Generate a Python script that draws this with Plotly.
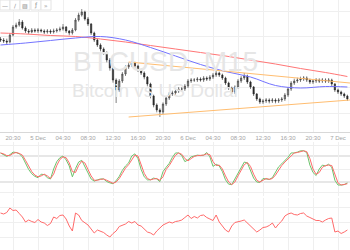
import plotly.graph_objects as go
import pandas as pd

# ---- data ----
times = pd.date_range("2018-12-04 18:30", periods=112, freq="30min")

opens = [3883, 3880, 3877, 3874, 3895, 3919, 3925, 3934, 3916, 3907,
         3904, 3910, 3907, 3910, 3907, 3904, 3907, 3904, 3907, 3910,
         3913, 3919, 3907, 3901, 3910, 3940, 3955, 3964, 3943, 3928,
         3901, 3880, 3865, 3853, 3841, 3820, 3796, 3760, 3730, 3757,
         3778, 3799, 3805, 3811, 3802, 3790, 3781, 3769, 3748, 3712,
         3685, 3670, 3664, 3688, 3706, 3718, 3721, 3727, 3733, 3733,
         3742, 3757, 3760, 3760, 3763, 3760, 3766, 3763, 3769, 3775,
         3781, 3775, 3766, 3751, 3736, 3724, 3739, 3757, 3766, 3772,
         3754, 3739, 3718, 3703, 3694, 3697, 3700, 3697, 3700, 3697,
         3700, 3703, 3715, 3733, 3751, 3757, 3760, 3763, 3766, 3760,
         3754, 3757, 3760, 3757, 3760, 3757, 3760, 3748, 3730, 3724,
         3718, 3712]
highs = [3889, 3886, 3884, 3901, 3925, 3932, 3943, 3940, 3921, 3913,
         3916, 3915, 3916, 3914, 3912, 3913, 3912, 3914, 3916, 3920,
         3928, 3922, 3910, 3916, 3946, 3962, 3973, 3968, 3949, 3931,
         3905, 3884, 3870, 3858, 3846, 3826, 3800, 3765, 3763, 3784,
         3805, 3812, 3817, 3815, 3806, 3794, 3786, 3772, 3752, 3716,
         3690, 3675, 3693, 3712, 3724, 3728, 3733, 3739, 3739, 3748,
         3763, 3766, 3766, 3769, 3768, 3772, 3771, 3775, 3781, 3787,
         3785, 3779, 3770, 3755, 3740, 3744, 3763, 3772, 3781, 3776,
         3758, 3742, 3721, 3707, 3703, 3706, 3705, 3706, 3705, 3706,
         3709, 3721, 3739, 3757, 3764, 3767, 3770, 3772, 3771, 3764,
         3763, 3766, 3765, 3766, 3765, 3766, 3764, 3751, 3734, 3728,
         3722, 3716]
lows = [3874, 3871, 3866, 3870, 3891, 3914, 3920, 3911, 3901, 3898,
        3900, 3902, 3901, 3902, 3898, 3899, 3898, 3899, 3902, 3905,
        3908, 3901, 3894, 3896, 3906, 3935, 3950, 3938, 3922, 3895,
        3874, 3859, 3846, 3835, 3813, 3788, 3752, 3691, 3724, 3751,
        3772, 3793, 3799, 3796, 3784, 3775, 3762, 3741, 3705, 3678,
        3663, 3649, 3658, 3682, 3700, 3712, 3715, 3721, 3726, 3727,
        3736, 3751, 3754, 3754, 3755, 3754, 3757, 3757, 3763, 3769,
        3769, 3760, 3745, 3730, 3718, 3718, 3733, 3751, 3760, 3748,
        3733, 3712, 3697, 3688, 3688, 3691, 3690, 3691, 3690, 3691,
        3694, 3697, 3709, 3727, 3745, 3751, 3754, 3757, 3754, 3748,
        3748, 3751, 3751, 3751, 3751, 3751, 3742, 3724, 3718, 3712,
        3706, 3697]
closes = [3880, 3877, 3874, 3895, 3919, 3925, 3934, 3916, 3907, 3904,
          3910, 3907, 3910, 3907, 3904, 3907, 3904, 3907, 3910, 3913,
          3919, 3907, 3901, 3910, 3940, 3955, 3964, 3943, 3928, 3901,
          3880, 3865, 3853, 3841, 3820, 3796, 3760, 3730, 3757, 3778,
          3799, 3805, 3811, 3802, 3790, 3781, 3769, 3748, 3712, 3685,
          3670, 3664, 3688, 3706, 3718, 3721, 3727, 3733, 3733, 3742,
          3757, 3760, 3760, 3763, 3760, 3766, 3763, 3769, 3775, 3781,
          3775, 3766, 3751, 3736, 3724, 3739, 3757, 3766, 3772, 3754,
          3739, 3718, 3703, 3694, 3697, 3700, 3697, 3700, 3697, 3700,
          3703, 3715, 3733, 3751, 3757, 3760, 3763, 3766, 3760, 3754,
          3757, 3760, 3757, 3760, 3757, 3760, 3748, 3730, 3724, 3718,
          3712, 3703]

ma_idx = [0, 8, 16, 24, 32, 40, 48, 56, 64, 72, 80, 88, 96, 104, 111]
ma_slow = [3901, 3898, 3893.5, 3890.5, 3883, 3874, 3863.5, 3853, 3842.5,
           3832, 3820, 3808, 3794.5, 3782.5, 3770.5]
ma_fast = [3865, 3871, 3878.5, 3886, 3890.5, 3880, 3857.5, 3832, 3806.5,
           3785.5, 3769, 3743.5, 3736, 3740.5, 3739]

trend_x = ["2018-12-05 15:00", "2018-12-07 02:25"]
trend_upper = [3814, 3751]
trend_lower = [3649, 3700]

stoch_k = [87, 83, 79, 83, 89, 88, 85, 78, 63, 49,
           39, 33, 30, 38, 37, 30, 27, 50, 67, 76,
           80, 71, 57, 32, 51, 66, 70, 57, 41, 27,
           22, 25, 27, 27, 21, 18, 16, 23, 33, 47,
           57, 64, 80, 85, 74, 49, 32, 25, 25, 29,
           27, 21, 44, 54, 63, 77, 87, 87, 81, 67,
           71, 78, 80, 82, 81, 82, 88, 78, 56, 61,
           57, 44, 25, 15, 14, 27, 41, 55, 66, 64,
           47, 29, 20, 19, 28, 27, 26, 30, 42, 55,
           62, 69, 77, 87, 87, 89, 92, 92, 88, 59,
           42, 35, 50, 59, 57, 61, 54, 24, 13, 13,
           14, 18]
stoch_d = [87, 85, 81, 81, 86, 88, 86, 82, 70, 56,
           44, 36, 32, 34, 38, 34, 28, 38, 58, 72,
           78, 76, 64, 44, 42, 58, 68, 64, 49, 34,
           24, 24, 26, 27, 24, 20, 17, 20, 28, 40,
           52, 60, 72, 82, 80, 62, 40, 28, 25, 27,
           28, 24, 32, 49, 58, 70, 82, 87, 84, 74,
           69, 74, 79, 81, 82, 82, 85, 83, 67, 58,
           59, 50, 34, 20, 14, 20, 34, 48, 60, 65,
           56, 38, 24, 20, 24, 28, 26, 28, 36, 48,
           58, 66, 73, 82, 87, 88, 90, 92, 90, 74,
           50, 38, 42, 54, 58, 59, 58, 39, 18, 13,
           14, 16]
rsi = [57.2, 56.4, 57.6, 61.2, 59.2, 59.6, 56.8, 54, 50, 51.6,
       50.4, 49.6, 52, 50, 49.2, 47.2, 48.8, 54, 52.8, 55.2,
       55.6, 52.4, 46.8, 42.8, 57.2, 55.6, 51.2, 49.6, 47.6, 44.4,
       41.2, 43.6, 42.4, 41.6, 39.6, 38, 40.8, 42.8, 46.4, 47.6,
       48.4, 50.4, 49.2, 50.4, 47.6, 46.8, 44.4, 42, 41.2, 39.6,
       42.8, 45.2, 47.6, 48.8, 50, 49.2, 50.4, 50.8, 51.6, 53.6,
       55.6, 52.8, 54.4, 53.2, 55.2, 55.6, 53.6, 52.4, 51.2, 55.6,
       50, 46.8, 43.6, 42, 46.8, 49.6, 50, 50.8, 51.6, 49.2,
       46, 43.6, 42, 43.6, 45.6, 46, 47.2, 49.2, 45.2, 48.4,
       50.8, 54.8, 56.4, 57.2, 56, 55.6, 56.8, 57.2, 54.8, 53.6,
       52.4, 51.2, 51.2, 50, 51.6, 52.8, 53.2, 42, 42.8, 40.8,
       42, 43.6]

tick_times = pd.date_range("2018-12-04 20:30", periods=14, freq="4h")
tick_labels = ["20:30", "5 Dec", "04:30", "08:30", "12:30", "16:30", "20:30",
               "6 Dec", "04:30", "08:30", "12:30", "16:30", "20:30", "7 Dec"]
stoch_levels = [80, 20]

# ---- figure ----
fig = go.Figure()
ma_times = times[ma_idx]
fig.add_trace(go.Scatter(x=ma_times, y=ma_slow, mode="lines",
                         line=dict(color="#ff7676", width=1, shape="spline"),
                         xaxis="x", yaxis="y"))
fig.add_trace(go.Scatter(x=ma_times, y=ma_fast, mode="lines",
                         line=dict(color="#7474ff", width=1, shape="spline"),
                         xaxis="x", yaxis="y"))
fig.add_trace(go.Scatter(x=trend_x, y=trend_upper, mode="lines",
                         line=dict(color="#ffbd70", width=1), xaxis="x", yaxis="y"))
fig.add_trace(go.Scatter(x=trend_x, y=trend_lower, mode="lines",
                         line=dict(color="#ffbd70", width=1), xaxis="x", yaxis="y"))
fig.add_trace(go.Candlestick(
    x=times, open=opens, high=highs, low=lows, close=closes,
    increasing=dict(line=dict(color="#3a3a3a", width=0.6), fillcolor="#8a8a8a"),
    decreasing=dict(line=dict(color="#2a2a2a", width=0.6), fillcolor="#2a2a2a"),
    whiskerwidth=0, xaxis="x", yaxis="y"))

fig.add_trace(go.Scatter(x=times, y=stoch_k, mode="lines",
                         line=dict(color="#6cc46c", width=1), xaxis="x2", yaxis="y2"))
fig.add_trace(go.Scatter(x=times, y=stoch_d, mode="lines",
                         line=dict(color="#ff6a6a", width=1), xaxis="x2", yaxis="y2"))
fig.add_trace(go.Scatter(x=times, y=rsi, mode="lines",
                         line=dict(color="#ff6a6a", width=1), xaxis="x3", yaxis="y3"))

x_range = ["2018-12-04 18:25:12", "2018-12-07 02:25:12"]
grid = "#efefef"
xcommon = dict(type="date", range=x_range, tickmode="array", tickvals=tick_times,
               ticktext=tick_labels, showgrid=True, gridcolor=grid, gridwidth=1,
               zeroline=False, ticks="", fixedrange=True)

shapes = []
for lv in stoch_levels:
    shapes.append(dict(type="line", xref="paper", yref="y2", x0=0, x1=1, y0=lv, y1=lv,
                       line=dict(color="#cfcfcf", width=1), layer="below"))

# toolbar boxes
tool_icons = ["\u2014", "/", "\u25a8", "\u0192", "\u00bb"]
tool_x = [0, 10, 20, 31, 41]
annotations = []
for ic, tx in zip(tool_icons, tool_x):
    shapes.append(dict(type="rect", xref="paper", yref="paper",
                       x0=tx / 350, x1=(tx + 10) / 350, y0=1 - 10 / 250, y1=1,
                       line=dict(color="#e4e4e4", width=1), fillcolor="white", layer="above"))
    annotations.append(dict(text=ic, xref="paper", yref="paper", x=(tx + 5) / 350,
                            y=1 - 5 / 250, showarrow=False, xanchor="center", yanchor="middle",
                            font=dict(size=6, color="#8a8a8a", family="DejaVu Sans")))

annotations.append(dict(text="BTCUSD, M15", xref="paper", yref="paper",
                        x=165 / 350, y=1 - 61 / 250, showarrow=False,
                        xanchor="center", yanchor="middle",
                        font=dict(size=28, color="#e6e6e6", family="Liberation Sans")))
annotations.append(dict(text="Bitcoin vs US Dollar", xref="paper", yref="paper",
                        x=156 / 350, y=1 - 90 / 250, showarrow=False,
                        xanchor="center", yanchor="middle",
                        font=dict(size=19, color="#e6e6e6", family="Liberation Sans")))

fig.update_layout(
    width=350, height=250, margin=dict(l=0, r=0, t=0, b=0),
    paper_bgcolor="white", plot_bgcolor="white", showlegend=False, boxgap=0.4,
    xaxis=dict(**xcommon, anchor="y", showticklabels=True,
               tickfont=dict(size=6, color="#a5a5a5", family="Liberation Sans"),
               showline=True, linecolor="#d8d8d8", linewidth=1,
               rangeslider=dict(visible=False)),
    xaxis2=dict(**xcommon, anchor="y2", showticklabels=False),
    xaxis3=dict(**xcommon, anchor="y3", showticklabels=False),
    yaxis=dict(domain=[0.472, 1], range=[3604, 4000], tickvals=[3967, 3890, 3814, 3738, 3661],
               showticklabels=False, gridcolor=grid, zeroline=False, fixedrange=True),
    yaxis2=dict(domain=[0.216, 0.432], range=[-12.3, 112.3], tickvals=[50, 105, -5],
                showticklabels=False, gridcolor=grid, zeroline=False, fixedrange=True),
    yaxis3=dict(domain=[0, 0.208], range=[27.6, 69.2], tickvals=[62, 50, 38],
                showticklabels=False, gridcolor=grid, zeroline=False, fixedrange=True),
    shapes=shapes, annotations=annotations,
)

fig.write_html("out.html")
